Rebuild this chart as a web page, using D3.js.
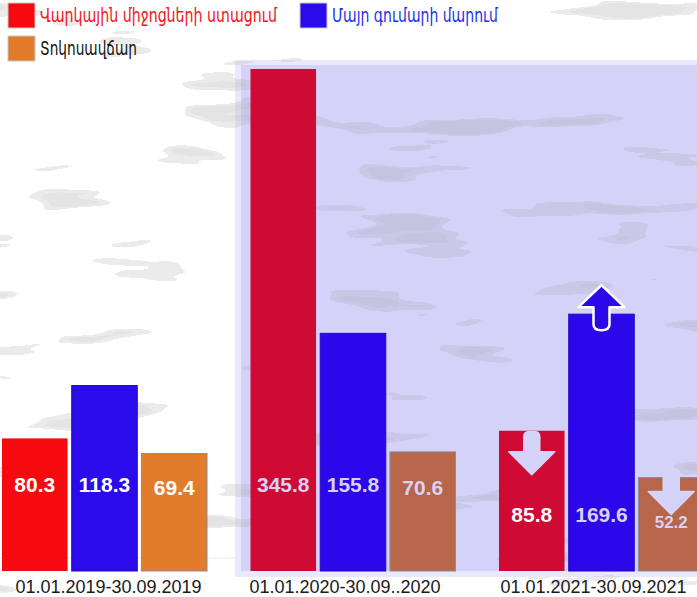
<!DOCTYPE html>
<html>
<head>
<meta charset="utf-8">
<script src="https://cdn.jsdelivr.net/npm/d3@7/dist/d3.min.js"></script>
<style>
  body { margin: 0; background: #fff; }
  svg { display: block; }
</style>
</head>
<body>
<script>
const width = 697;
const height = 597;

const periods = ["01.01.2019-30.09.2019", "01.01.2020-30.09..2020", "01.01.2021-30.09.2021"];
const seriesNames = ["Վարկային միջոցների ստացում", "Մայր գումարի մարում", "Տոկոսավճար"];
const loans = [80.3, 345.8, 85.8];
const principal = [118.3, 155.8, 169.6];
const interest = [69.4, 70.6, 52.2];
// change marker on the last period
const trend = [[null, null, "down"], [null, null, "up"], [null, null, "down"]];

const seriesValues = [loans, principal, interest];
const barColors = [
  ["#f50a10", "#cf0a33", "#cf0a33"],
  ["#2b0bea", "#2b07ea", "#2b07ea"],
  ["#e07c2c", "#b8664a", "#b8664a"]
];
const legendColors = ["#f50a10", "#2b0bea", "#e07c2c"];
const legendText = ["#f2141b", "#1a30ea", "#111"];

const svg = d3.select("body")
  .append("svg")
  .attr("width", width)
  .attr("height", height);

const defs = svg.append("defs");
const f = defs.append("filter").attr("id", "tex")
  .attr("x", 0).attr("y", 0).attr("width", "100%").attr("height", "100%");
f.append("feTurbulence")
  .attr("type", "fractalNoise")
  .attr("baseFrequency", "0.006 0.035")
  .attr("numOctaves", 3)
  .attr("seed", 7)
  .attr("result", "n");
f.append("feColorMatrix")
  .attr("in", "n")
  .attr("type", "matrix")
  .attr("values", "0 0 0 0 0.35  0 0 0 0 0.35  0 0 0 0 0.37  0 0 0 -2.4 1.55");
f.append("feComponentTransfer").append("feFuncA")
  .attr("type", "discrete")
  .attr("tableValues", "0 0 0 0 0 0.3 0.4");

const padding = {top: 69, bottom: 571};

const x0 = d3.scaleBand()
  .domain(periods)
  .range([2, 704])
  .paddingInner(0.175)
  .paddingOuter(0);

const x1 = d3.scaleBand()
  .domain(seriesNames)
  .range([0, x0.bandwidth()])
  .paddingInner(0.06);

const y = d3.scaleLinear()
  .domain([-15, d3.max(loans)])
  .range([padding.bottom, padding.top]);

// shaded panel behind the two latest periods
svg.append("rect")
  .attr("x", 235).attr("y", 60)
  .attr("width", width - 235).attr("height", 517)
  .attr("fill", "#e9e9fd");
svg.append("rect")
  .attr("x", 241).attr("y", 65)
  .attr("width", width - 241).attr("height", 506)
  .attr("fill", "#d4d2f9");

svg.append("line")
  .attr("x1", 0).attr("x2", 235)
  .attr("y1", 558).attr("y2", 558)
  .attr("stroke", "#ececec");

svg.append("rect")
  .attr("width", width).attr("height", height)
  .attr("filter", "url(#tex)")
  .attr("opacity", 0.7);

const bars = [];
periods.forEach((p, i) => {
  seriesNames.forEach((s, j) => {
    bars.push({
      period: p, series: s, pi: i, si: j,
      value: seriesValues[j][i],
      trend: trend[j][i]
    });
  });
});

const g = svg.append("g");

g.selectAll("rect.bar")
  .data(bars)
  .join("rect")
  .attr("class", "bar")
  .attr("x", d => x0(d.period) + x1(d.series))
  .attr("y", d => y(d.value))
  .attr("width", x1.bandwidth())
  .attr("height", d => y.range()[0] - y(d.value))
  .attr("fill", d => barColors[d.si][d.pi])
  .attr("stroke", d => d.si === 2 ? "#8f8a9a" : (d.si === 1 ? "#2406c8" : "none"))
  .attr("stroke-width", d => d.si === 0 ? 0 : 1);

function downArrow(cx, t) {
  const s = 8, hw = 23, hb = t + 20, tip = t + 43;
  return `M${cx - s},${t + 5} Q${cx - s},${t} ${cx - s + 5},${t} L${cx + s - 5},${t} Q${cx + s},${t} ${cx + s},${t + 5}` +
    ` L${cx + s},${hb} L${cx + hw},${hb} L${cx},${tip} L${cx - hw},${hb} L${cx - s},${hb} Z`;
}
function upArrow(cx, t) {
  const s = 8, hw = 23, hb = t - 7, tip = t - 29, bot = t + 16;
  return `M${cx - s},${bot - 6} Q${cx - s},${bot} ${cx},${bot} Q${cx + s},${bot} ${cx + s},${bot - 6}` +
    ` L${cx + s},${hb} L${cx + hw},${hb} L${cx},${tip} L${cx - hw},${hb} L${cx - s},${hb} Z`;
}

g.selectAll("path.arrow")
  .data(bars.filter(d => d.trend))
  .join("path")
  .attr("class", "arrow")
  .attr("d", d => {
    const cx = x0(d.period) + x1(d.series) + x1.bandwidth() / 2;
    const t = y(d.value);
    return d.trend === "up" ? upArrow(cx, t) : downArrow(cx, d.si === 2 ? t - 6 : t + 1);
  })
  .attr("fill", d => d.trend === "up" ? "#2b07ea" : "#d6d3f8")
  .attr("stroke", d => d.trend === "up" ? "#fff" : "#d6d3f8")
  .attr("stroke-width", d => d.trend === "up" ? 2.5 : 1.5)
  .attr("stroke-linejoin", "round");

g.selectAll("text.val")
  .data(bars)
  .join("text")
  .attr("class", "val")
  .attr("x", d => x0(d.period) + x1(d.series) + x1.bandwidth() / 2)
  .attr("y", d => d.pi === 2 ? (d.si === 2 ? 528 : 522) : (d.si === 2 ? 495 : 492))
  .attr("text-anchor", "middle")
  .style("font-family", "'Liberation Sans', Arial, sans-serif")
  .style("font-weight", "bold")
  .style("font-size", d => (d.pi === 2 && d.si === 2) ? "17px" : "21px")
  .attr("fill", d => (d.pi === 0 || (d.pi === 2 && d.si === 0)) ? "#fff" : "#d6d3f8")
  .text(d => d.value.toFixed(1));

// period labels
svg.selectAll("text.period")
  .data(periods)
  .join("text")
  .attr("class", "period")
  .attr("x", (d, i) => x0(d) + x0.bandwidth() / 2 + [4, -8, -8][i])
  .attr("y", 593)
  .attr("text-anchor", "middle")
  .style("font-family", "'Liberation Sans', Arial, sans-serif")
  .style("font-size", "18px")
  .attr("fill", "#1a1a1a")
  .text(d => d);

// legend
const legendPos = [[8, 3], [300, 3], [8, 36]];
const legendWidth = [237, 166, 97];
const legend = svg.selectAll("g.legend")
  .data(seriesNames)
  .join("g")
  .attr("class", "legend")
  .attr("transform", (d, i) => "translate(" + legendPos[i][0] + "," + legendPos[i][1] + ")");

legend.append("rect")
  .attr("width", 27).attr("height", 25)
  .attr("fill", (d, i) => legendColors[i])
  .attr("stroke", "#c8c8c8")
  .attr("stroke-width", 1);

// narrow the legend labels to the width they take in the original
legend.append("text")
  .attr("y", 19)
  .style("font-family", "'DejaVu Sans', sans-serif")
  .style("font-size", "19px")
  .attr("fill", (d, i) => legendText[i])
  .text(d => d)
  .each(function(d, i) {
    const w = this.getComputedTextLength();
    const k = legendWidth[i] / w;
    d3.select(this).attr("transform", "translate(32,0) scale(" + k + ",1)");
  });
</script>
</body>
</html>
